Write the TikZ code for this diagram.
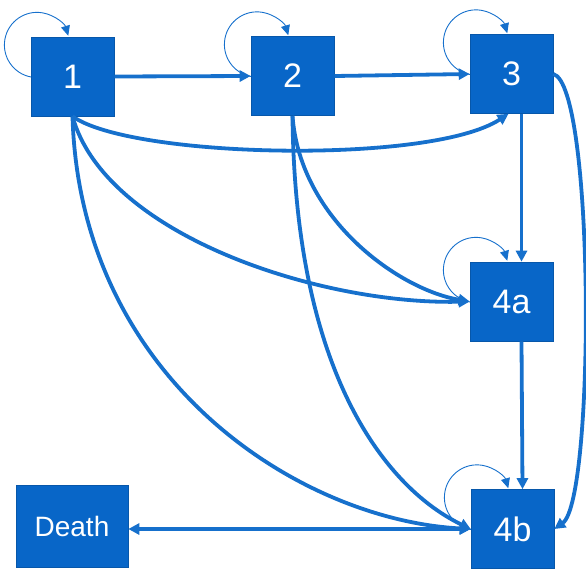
\documentclass[tikz,border=0pt]{standalone}
\usepackage{fontspec}
\setmainfont{Liberation Sans}
\usetikzlibrary{arrows.meta,calc}
\definecolor{boxblue}{RGB}{8,102,200}
\definecolor{linkblue}{RGB}{22,112,204}
\newcommand{\stateloop}[1]{\draw[selfloop] ($(#1.center)+(-41.5,0.5)$) arc[start angle=259.4, end angle=16.4, radius=32.6pt];}
\begin{document}
\begin{tikzpicture}[x=1pt,y=-1pt,
 state/.style={rectangle, fill=boxblue, draw=boxblue!85!black, line width=0.6pt, minimum width=83pt, minimum height=79pt, inner sep=0pt, text=white, font=\fontsize{34}{34}\selectfont},
 link/.style={draw=linkblue, line width=3.8pt, -{Triangle[length=11pt,width=11pt]}},
 selfloop/.style={draw=linkblue, line width=0.9pt, -{Triangle[length=10pt,width=9pt]}}]
\useasboundingbox (0,0) rectangle (586,571);
\node[state] (n1) at (72.5,76.5) {1};
\node[state] (n2) at (292.5,76) {2};
\node[state] (n3) at (511.5,74) {3};
\node[state] (n4a) at (511.5,301.5) {4a};
\node[state] (n4b) at (512.5,529) {4b};
\node[state, minimum width=112pt, minimum height=82pt, font=\fontsize{28}{28}\selectfont] (death) at (72,526) {Death};
% self loops
\stateloop{n1}
\stateloop{n2}
\stateloop{n3}
\stateloop{n4a}
\stateloop{n4b}
% straight arrows
\draw[link] (n1.east) -- (n2.west);
\draw[link] (n2.east) -- (n3.west);
\draw[link] ([xshift=10pt]n3.south) -- ([xshift=10pt]n4a.north);
\draw[link] ([xshift=10pt]n4a.south) -- ([xshift=10pt]n4b.north);
\draw[link, {Triangle[length=11pt,width=11pt]}-{Triangle[length=11pt,width=11pt]}] (n4b.west) -- (n4b.west -| death.east);
% curves from 1
\draw[link] (n1.south) .. controls (130,158) and (430,165) .. ([xshift=-3pt]n3.south);
\draw[link] (n1.south) .. controls (105,235) and (320,305) .. (n4a.west);
\draw[link] (n1.south) .. controls (80,380) and (300,520) .. (n4b.west);
% curves from 2
\draw[link] (n2.south) .. controls (300,220) and (400,290) .. (n4a.west);
\draw[link] (n2.south) .. controls (295,380) and (390,490) .. (n4b.west);
% 3 to 4b
\draw[link] (n3.east) .. controls (595,85) and (595,500) .. (n4b.east);
\end{tikzpicture}
\end{document}
